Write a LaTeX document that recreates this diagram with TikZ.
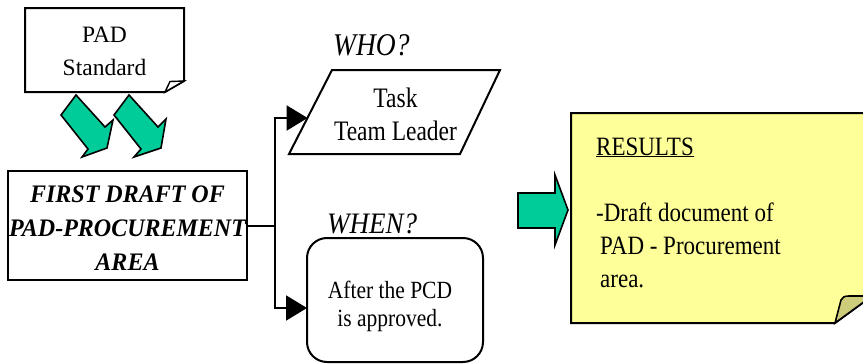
\documentclass[tikz,border=0pt]{standalone}
\usepackage{fontspec}
\setmainfont{Liberation Serif}
\usetikzlibrary{arrows.meta}

\definecolor{arrowgreen}{RGB}{0,204,153}
\definecolor{noteyellow}{RGB}{255,255,153}
\definecolor{notefold}{RGB}{204,204,122}

% vertical stretch of a line of text
\newcommand{\vstretch}[2]{\scalebox{1}[#1]{#2}}

\begin{document}
\begin{tikzpicture}[x=1pt,y=-1pt,
  outline/.style={draw=black, line width=2pt, line join=miter},
  blockarrow/.style={fill=arrowgreen, draw=black, line width=1.6pt, line join=miter},
  flowline/.style={draw=black, line width=2pt},
  flowarrow/.style={flowline, -{Triangle[length=21pt,width=25pt]}},
  txt/.style={inner sep=0pt, anchor=base},
  heading/.style={inner sep=0pt, anchor=base west},
]
\useasboundingbox (0,0) rectangle (863,364);

% ---- PAD standard sheet with turned-up corner
\draw[outline, fill=white] (25,8) -- (184,8) -- (184,81) -- (165,92) -- (25,92) -- cycle;
\draw[outline, fill=white, line width=1.4pt] (165,92) .. controls (167,86) .. (170,81.5) -- (184,81) -- cycle;
\node[txt, font=\fontsize{23.5}{33}\selectfont] (stdtext) at (104.5,42)
  {\begin{tabular}[t]{@{}c@{}}PAD\\Standard\end{tabular}};

% ---- two green block arrows pointing down to the draft box
\draw[blockarrow] (76,95) -- (105,127) -- (113,120) -- (107,148) -- (82,157) -- (88,149) -- (61,115) -- cycle;
\draw[blockarrow] (129,95) -- (158,127) -- (166,119) -- (161,148) -- (134,157) -- (141,149) -- (114,115) -- cycle;

% ---- first draft box
\node[outline, minimum width=239pt, minimum height=109pt] (draft) at (127.5,225.5) {};
\node[txt, font=\bfseries\itshape\fontsize{24}{34}\selectfont] (drafttext) at (127.5,202)
  {\begin{tabular}[t]{@{}c@{}}\vstretch{1.05}{FIRST DRAFT OF}\\\vstretch{1.05}{PAD-PROCUREMENT}\\\vstretch{1.05}{AREA}\end{tabular}};

% ---- WHO? : parallelogram
\node[heading, font=\itshape\fontsize{27.5}{32}\selectfont] (whohead) at (333,55) {\vstretch{1.15}{WHO?}};
\draw[outline] (289,154) -- (332,70) -- (500,70) -- (460,154) -- cycle;
\coordinate (who-in) at (307.6,118);
\node[txt, font=\fontsize{23.5}{33}\selectfont] (whotext) at (395.5,107)
  {\begin{tabular}[t]{@{}c@{}}\vstretch{1.2}{Task}\\\vstretch{1.2}{Team Leader}\end{tabular}};

% ---- WHEN? : rounded box
\node[heading, font=\itshape\fontsize{27}{32}\selectfont] (whenhead) at (327,233) {\vstretch{1.1}{WHEN?}};
\node[outline, rounded corners=20pt, minimum width=176pt, minimum height=124pt] (when) at (395,300) {};
\coordinate (when-in) at (307,308);
\node[txt, font=\fontsize{21.5}{28.5}\selectfont] (whentext) at (390,298)
  {\begin{tabular}[t]{@{}c@{}}\vstretch{1.15}{After the PCD}\\\vstretch{1.15}{is approved.}\end{tabular}};

% ---- connectors from the draft box
\coordinate (split) at (275,225.5);
\draw[flowline] (draft.east) -- (split);
\draw[flowarrow] (split) |- (who-in);
\draw[flowarrow] (split) |- (when-in);

% ---- green arrow into the results note
\draw[blockarrow] (518,193) -- (555,193) -- (555,175) -- (568,210) -- (555,245) -- (555,228) -- (518,228) -- cycle;

% ---- results note with folded corner
\draw[outline, fill=noteyellow] (571,113) -- (872,113) -- (872,296) -- (835,323) -- (571,323) -- cycle;
\draw[outline, fill=notefold, line width=1.6pt] (835,323) -- (841,300) .. controls (842,297) and (845,296) .. (849,296) -- (872,296) -- cycle;
\node[heading, font=\fontsize{23}{33}\selectfont] (results) at (596,155)
  {\begin{tabular}[t]{@{}l@{}}\underline{\vstretch{1.15}{RESULTS}}\\ \\
   \vstretch{1.15}{-Draft document of}\\
   \hspace{4pt}\vstretch{1.15}{PAD - Procurement}\\
   \hspace{4pt}\vstretch{1.15}{area.}\end{tabular}};
\end{tikzpicture}
\end{document}
